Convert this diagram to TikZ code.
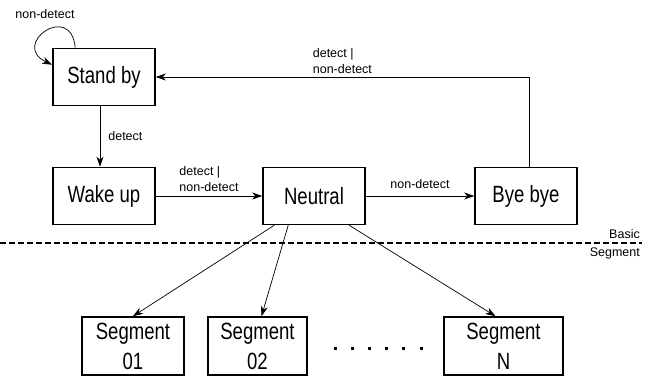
\documentclass[tikz,border=0pt]{standalone}
\usepackage{fontspec}
\setmainfont{Liberation Sans}
\newfontfamily\narrowfont[FakeStretch=0.79]{Liberation Sans}
\usetikzlibrary{arrows.meta}
\tikzstyle{Sst}=[draw,line width=1.6pt,minimum width=102pt,minimum height=57pt,inner sep=0,font=\narrowfont\fontsize{23.5}{30}\selectfont]
\tikzstyle{Sseg}=[Sst,align=center,minimum height=58pt]
\tikzstyle{arr}=[->,>={Stealth[length=10pt,width=7pt,inset=3pt]},line width=0.7pt]
\tikzstyle{trans}=[every edge/.style={draw,arr}]
\tikzstyle{lab}=[font=\fontsize{12.5}{16}\selectfont,inner sep=2pt]

\begin{document}
\begin{tikzpicture}[trans,x=1pt,y=1pt]
  \useasboundingbox (0,0) rectangle (651,377);
  \node[Sst] (standby) at (104,300) {Stand by};
  \node[Sst,below of=standby,node distance=119pt] (wakeup) {Wake up};
  \node[Sst,right of=wakeup,node distance=210pt] (neutral) {Neutral};
  \node[Sst,right of=neutral,node distance=212pt] (byebye) {Bye bye};
  \node[Sseg,below of=wakeup,xshift=29pt,node distance=150pt] (seg01) {Segment\\01};
  \node[Sseg,right of=seg01,node distance=124.5pt,minimum width=99pt] (seg02) {Segment\\02};
  \node[Sseg,right of=seg02,node distance=246pt,minimum width=119pt] (segN) {Segment\\N};
  % basic transitions
  \path ([xshift=23pt]standby.north west) edge[out=95,in=155,looseness=4.2] ([yshift=-17pt]standby.north west);
  \node[lab] (loopl) at (45,363) {non-detect};
  \path ([xshift=-4pt]standby.south) edge node[lab,right,xshift=6pt] {detect} ([xshift=-4pt]wakeup.north);
  \path (wakeup) edge node[lab,above,align=left,yshift=2pt] {detect |\\non-detect} (neutral);
  \path (neutral) edge node[lab,above,yshift=5pt] {non-detect} (byebye);
  \draw[arr] ([xshift=3pt]byebye.north) |- node[lab,pos=0.75,above,align=left,yshift=1pt] {detect |\\non-detect} (standby.east);
  % basic / segment border
  \draw[line width=2.5pt,dash pattern=on 6pt off 3pt] (0,134) -- (642,134);
  \node[lab,anchor=east] (basicl) at (642,143) {Basic};
  \node[lab,anchor=east] (segl) at (642,124) {Segment};
  % segments
  \path ([xshift=12pt]neutral.south west) edge (seg01.north)
        ([xshift=26pt]neutral.south west) edge ([xshift=4pt]seg02.north)
        ([xshift=87pt]neutral.south west) edge ([xshift=-8pt]segN.north);
  \foreach \i in {0,...,5}
    \fill ({333.5+17.2*\i},26.5) rectangle ++(3,3);
\end{tikzpicture}
\end{document}
